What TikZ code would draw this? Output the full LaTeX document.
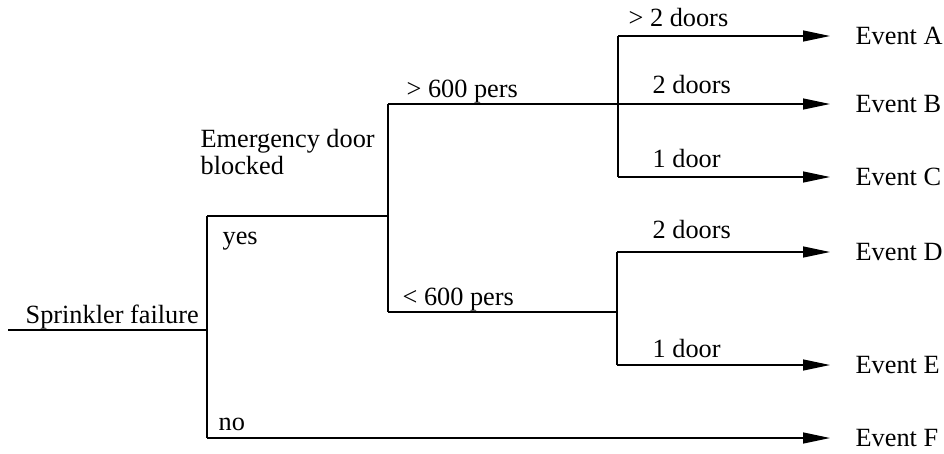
\documentclass[tikz,border=0pt]{standalone}
\usepackage{fontspec}
\setmainfont{Liberation Serif}
\usetikzlibrary{arrows.meta}

\tikzset{
  lbl/.style={anchor=base west,inner sep=0pt},
  event/.style={anchor=west,inner sep=0pt},
  leaf/.style={-{Triangle[length=27pt,width=11pt]},shorten >=25pt}
}

\begin{document}
\begin{tikzpicture}[x=1pt,y=-1pt,line width=1.3pt,font=\fontsize{26.3}{27}\selectfont]
\useasboundingbox (0,0) rectangle (944,453);

% branch points
\coordinate (s0) at (8,330);
\coordinate (s1) at (207,330);
\coordinate (yes) at (207,216);
\coordinate (no) at (207,438);
\coordinate (d1) at (388,216);
\coordinate (hi) at (388,104);
\coordinate (lo) at (388,312);
\coordinate (uA) at (618,36);
\coordinate (uC) at (618,177);
\coordinate (l1) at (617,312);
\coordinate (lD) at (617,252);
\coordinate (lE) at (617,365);

% outcomes
\foreach \e/\y in {A/36,B/104,C/177,D/252,E/365,F/438}
  \node[event] (E\e) at (855,\y) {Event \e};

\draw (s0) -- (s1);
\draw (yes) -- (no);
\draw (yes) -- (d1);
\draw (hi) -- (lo);
\draw (lo) -- (l1);
\draw (uA) -- (uC);
\draw (lD) -- (lE);

\draw[leaf] (uA) -- (EA.west);
\draw[leaf] (hi) -- (EB.west);
\draw[leaf] (uC) -- (EC.west);
\draw[leaf] (lD) -- (ED.west);
\draw[leaf] (lE) -- (EE.west);
\draw[leaf] (no) -- (EF.west);

\node[lbl] (sprink) at (25,323) {Sprinkler failure};
\node[lbl,align=left] (door) at (200,174) {Emergency door\\blocked};
\node[lbl] (lyes) at (222,244) {yes};
\node[lbl] (lno) at (218,430) {no};
\node[lbl] (more) at (406,97) {> 600 pers};
\node[lbl] (less) at (402,305) {< 600 pers};
\node[lbl] (dA) at (628,26) {> 2 doors};
\node[lbl] (dB) at (652,93) {2 doors};
\node[lbl] (dC) at (652,167) {1 door};
\node[lbl] (dD) at (652,238) {2 doors};
\node[lbl] (dE) at (652,357) {1 door};
\end{tikzpicture}
\end{document}
